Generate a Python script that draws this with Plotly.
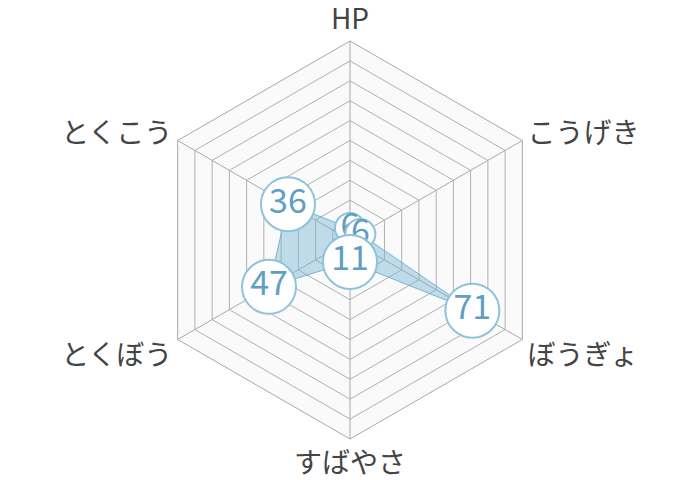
import plotly.graph_objects as go

categories = ["HP", "こうげき", "ぼうぎょ", "すばやさ", "とくぼう", "とくこう"]
values = [6, 6, 71, 11, 47, 36]
radial_max = 100
radial_step = 10

line_col = "rgba(110,175,205,0.9)"
fill_col = "rgba(120,180,210,0.45)"
bubble_border = "#8cc4da"
bubble_text = "#5fa0c2"

fig = go.Figure()
fig.add_trace(go.Scatterpolar(
    r=values + [values[0]],
    theta=categories + [categories[0]],
    mode="lines",
    fill="toself",
    fillcolor=fill_col,
    line=dict(color=line_col, width=1),
    hoverinfo="skip",
    showlegend=False,
))
for cat, val in zip(categories, values):
    label = str(val)
    msize = 30 if len(label) == 1 else 54
    fig.add_trace(go.Scatterpolar(
        r=[val], theta=[cat],
        mode="markers+text",
        text=[label],
        textposition="middle center",
        textfont=dict(family="Noto Sans CJK JP", size=34, color=bubble_text),
        marker=dict(size=msize, color="white", line=dict(color=bubble_border, width=2)),
        showlegend=False,
    ))

cx, cy, R = 342, 232, 199
W, H = 700, 480
fig.update_layout(
    width=W, height=H,
    margin=dict(l=0, r=0, t=0, b=0),
    paper_bgcolor="white",
    polar=dict(
        domain=dict(x=[(cx - R) / W, (cx + R) / W], y=[(H - cy - R) / H, (H - cy + R) / H]),
        gridshape="linear",
        bgcolor="#fafafa",
        radialaxis=dict(range=[0, radial_max], dtick=radial_step, showticklabels=False,
                        ticks="", showline=False, gridcolor="#b0b0b0", gridwidth=1),
        angularaxis=dict(rotation=90, direction="clockwise", gridcolor="#a8a8a8",
                         linecolor="#a8a8a8", linewidth=1, ticks="",
                         tickfont=dict(family="Noto Sans CJK JP", size=28, color="#444444")),
    ),
)
fig.write_html("out.html")
